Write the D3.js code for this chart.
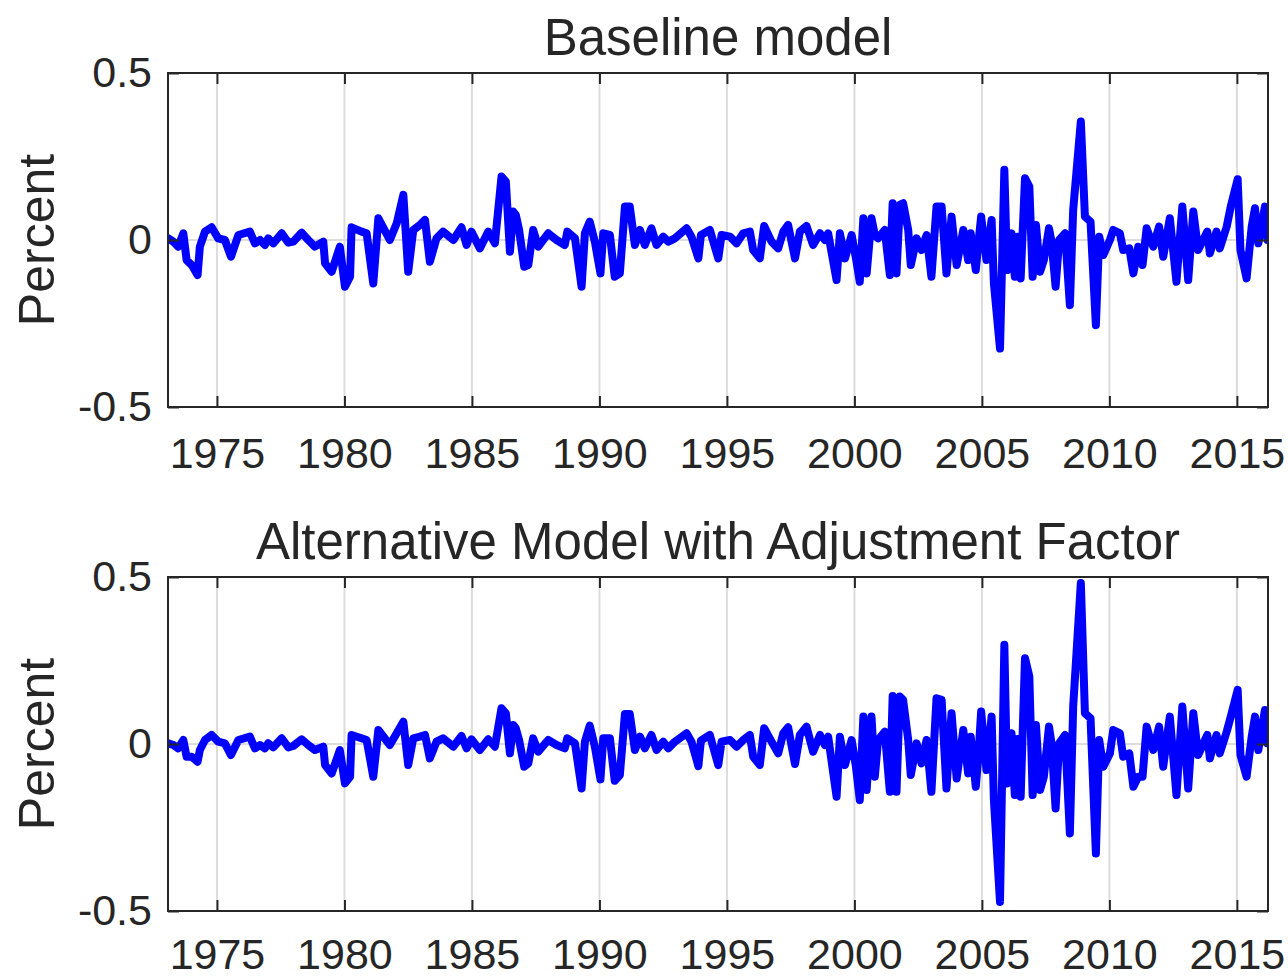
<!DOCTYPE html>
<html>
<head>
<meta charset="utf-8">
<script src="https://cdn.jsdelivr.net/npm/d3@7"></script>
<style>
  body { margin: 0; background: #fff; }
  svg { display: block; }
  text { font-family: "Liberation Sans", Arial, Helvetica, sans-serif; fill: #262626; }
</style>
</head>
<body>
<div id="chart"></div>
<script>
// decimal years
var months = [
  1973.09, 1973.29, 1973.48, 1973.68, 1973.81, 1974.01, 1974.24, 1974.33, 1974.53, 1974.79,
  1975.05, 1975.31, 1975.55, 1975.84, 1976.29, 1976.49, 1976.69, 1976.88, 1977.01, 1977.21,
  1977.54, 1977.80, 1977.99, 1978.32, 1978.58, 1978.84, 1979.17, 1979.24, 1979.50, 1979.82,
  1980.02, 1980.22, 1980.28, 1980.67, 1980.87, 1981.13, 1981.33, 1981.78, 1982.05, 1982.31,
  1982.50, 1982.70, 1982.96, 1983.16, 1983.35, 1983.61, 1983.87, 1984.27, 1984.59, 1984.79,
  1984.98, 1985.31, 1985.64, 1985.90, 1986.16, 1986.33, 1986.49, 1986.62, 1986.72, 1986.85,
  1987.05, 1987.21, 1987.40, 1987.60, 1987.99, 1988.32, 1988.64, 1988.74, 1989.04, 1989.30,
  1989.43, 1989.62, 1989.82, 1990.04, 1990.15, 1990.41, 1990.60, 1990.80, 1991.00, 1991.19,
  1991.39, 1991.59, 1991.78, 1992.04, 1992.24, 1992.50, 1992.70, 1992.96, 1993.42, 1993.61,
  1993.88, 1993.98, 1994.33, 1994.66, 1994.79, 1995.12, 1995.38, 1995.64, 1995.90, 1996.03,
  1996.29, 1996.46, 1996.75, 1997.01, 1997.21, 1997.40, 1997.67, 1997.86, 1998.12, 1998.38,
  1998.65, 1998.84, 1998.97, 1999.30, 1999.43, 1999.63, 1999.89, 2000.06, 2000.21, 2000.35,
  2000.48, 2000.67, 2000.80, 2000.93, 2001.19, 2001.39, 2001.50, 2001.65, 2001.78, 2001.91,
  2002.11, 2002.21, 2002.44, 2002.63, 2002.83, 2003.02, 2003.22, 2003.42, 2003.61, 2003.81,
  2004.01, 2004.27, 2004.46, 2004.56, 2004.76, 2004.86, 2004.97, 2005.18, 2005.38, 2005.47,
  2005.71, 2005.88, 2005.99, 2006.08, 2006.16, 2006.29, 2006.40, 2006.52, 2006.69, 2006.86,
  2006.99, 2007.12, 2007.28, 2007.43, 2007.63, 2007.73, 2007.89, 2008.03, 2008.26, 2008.45,
  2008.58, 2008.88, 2009.04, 2009.26, 2009.47, 2009.60, 2009.76, 2010.02, 2010.15, 2010.41,
  2010.54, 2010.78, 2010.94, 2011.13, 2011.30, 2011.46, 2011.72, 2011.95, 2012.11, 2012.37,
  2012.63, 2012.86, 2013.09, 2013.29, 2013.48, 2013.84, 2013.94, 2014.20, 2014.33, 2014.60,
  2014.76, 2015.03, 2015.14, 2015.38, 2015.58, 2015.71, 2015.84, 2016.10, 2016.20
];

var baseline = [
  0.005, -0.005, -0.02, 0.02, -0.06, -0.075, -0.105, -0.02, 0.025, 0.038,
  0.005, 0, -0.05, 0.015, 0.025, -0.01, 0, -0.015, 0.005, -0.01,
  0.02, -0.008, -0.005, 0.022, 0, -0.02, -0.005, -0.07, -0.095, -0.02,
  -0.14, -0.11, 0.038, 0.025, 0.02, -0.13, 0.065, 0, 0.05, 0.135,
  -0.095, 0.03, 0.045, 0.06, -0.065, 0.005, 0.025, 0, 0.038, -0.015,
  0.025, -0.025, 0.025, -0.01, 0.19, 0.175, -0.035, 0.085, 0.075, 0.03,
  -0.08, -0.075, 0.03, -0.02, 0.02, 0, -0.015, 0.025, 0.005, -0.14,
  0.02, 0.055, -0.005, -0.10, 0.02, 0.015, -0.11, -0.10, 0.10, 0.10,
  -0.015, 0.03, -0.015, 0.035, -0.015, 0.01, -0.005, 0.005, 0.035, 0.01,
  -0.055, 0.015, 0.03, -0.055, 0.015, 0.01, -0.01, 0.02, 0.025, -0.03,
  -0.055, 0.042, -0.005, -0.025, 0.025, 0.045, -0.055, 0.025, 0.042, -0.015,
  0.02, 0, 0.02, -0.12, 0.02, -0.055, 0.015, -0.055, -0.125, 0.065,
  -0.10, 0.065, 0.015, 0.005, 0.03, -0.105, 0.11, -0.10, 0.105, 0.11,
  0.03, -0.075, 0.005, -0.03, 0.015, -0.11, 0.10, 0.10, -0.10, 0.07,
  -0.075, 0.03, -0.06, 0.02, -0.09, -0.01, 0.07, -0.06, 0.06, -0.13,
  -0.325, 0.21, -0.09, -0.01, 0.02, -0.11, 0.01, -0.115, 0.185, 0.16,
  -0.11, 0.045, -0.095, -0.06, 0.035, -0.005, -0.14, 0, 0.02, -0.195,
  0.09, 0.355, 0.07, 0.055, -0.255, 0.01, -0.045, 0, 0.03, 0.02,
  -0.03, -0.025, -0.10, -0.02, -0.075, 0.035, -0.02, 0.04, -0.05, 0.065,
  -0.125, 0.10, -0.12, 0.085, -0.03, 0.025, -0.04, 0.025, -0.025, 0.04,
  0.10, 0.182, -0.03, -0.115, 0.04, 0.095, -0.01, 0.10, 0
];

var adjusted = [
  0.002, -0.003, -0.013, 0.012, -0.038, -0.038, -0.053, -0.018, 0.012, 0.027,
  0.007, 0.002, -0.033, 0.012, 0.022, -0.013, -0.003, -0.013, 0.002, -0.01,
  0.017, -0.01, -0.006, 0.014, -0.003, -0.018, -0.008, -0.063, -0.088, -0.018,
  -0.118, -0.098, 0.027, 0.017, 0.012, -0.098, 0.042, -0.003, 0.032, 0.067,
  -0.063, 0.017, 0.022, 0.027, -0.043, 0.007, 0.017, -0.008, 0.024, -0.013,
  0.014, -0.018, 0.014, -0.008, 0.107, 0.092, -0.028, 0.057, 0.047, 0.012,
  -0.068, -0.058, 0.017, -0.023, 0.012, -0.003, -0.013, 0.017, 0.002, -0.133,
  0.007, 0.055, -0.008, -0.106, 0.017, 0.017, -0.11, -0.093, 0.09, 0.09,
  -0.018, 0.022, -0.013, 0.027, -0.018, 0.007, -0.013, 0.007, 0.032, 0.007,
  -0.066, 0.01, 0.027, -0.063, 0.007, 0.012, -0.008, 0.012, 0.027, -0.038,
  -0.063, 0.047, 0.007, -0.028, 0.032, 0.05, -0.06, 0.027, 0.052, -0.023,
  0.027, -0.003, 0.022, -0.158, 0.022, -0.063, 0.012, -0.068, -0.168, 0.082,
  -0.138, 0.082, -0.098, 0.012, 0.037, -0.143, 0.144, -0.143, 0.142, 0.132,
  0.012, -0.093, 0.002, -0.058, 0.012, -0.143, 0.137, 0.132, -0.133, 0.092,
  -0.103, 0.042, -0.088, 0.022, -0.128, -0.038, 0.097, -0.078, 0.082, -0.168,
  -0.473, 0.297, -0.118, -0.02, 0.032, -0.153, 0.015, -0.158, 0.257, 0.202,
  -0.153, 0.057, -0.138, -0.098, 0.052, 0.002, -0.193, 0.002, 0.027, -0.268,
  0.112, 0.482, 0.092, 0.077, -0.328, 0.012, -0.068, -0.028, 0.042, 0.032,
  -0.038, -0.028, -0.128, -0.098, -0.098, 0.052, -0.018, 0.052, -0.068, 0.082,
  -0.153, 0.112, -0.133, 0.092, -0.033, 0.027, -0.043, 0.027, -0.028, 0.037,
  0.082, 0.162, -0.033, -0.098, 0.022, 0.082, -0.018, 0.102, 0.002
];

var xTicks = [1975, 1980, 1985, 1990, 1995, 2000, 2005, 2010, 2015];
var yTicks = [-0.5, 0, 0.5];
var titles = ["Baseline model", "Alternative Model with Adjustment Factor"];
var yLabel = "Percent";

var width = 1288, height = 976;
var axLeft = 168, axRight = 1268;
var panelTops = [73, 577];
var panelH = 334;
var labelPad = [30, 27];
var lineColor = "#0000ff", axisColor = "#262626", gridColor = "#dcdcdc";

var svg = d3.select("#chart").append("svg")
  .attr("width", width)
  .attr("height", height)
  .style("background", "#fff");

var x = d3.scaleLinear().domain([1973.08, 2016.22]).range([axLeft, axRight]);

function drawPanel(idx, values){
  var top = panelTops[idx];
  var y = d3.scaleLinear().domain([-0.5, 0.5]).range([top + panelH, top]);
  var g = svg.append("g");

  // clip for the data line
  var clipId = "clip" + idx;
  svg.append("clipPath").attr("id", clipId)
    .append("rect")
    .attr("x", axLeft).attr("y", top)
    .attr("width", axRight - axLeft).attr("height", panelH);

  // grid
  g.selectAll(".vgrid").data(xTicks).enter().append("line")
    .attr("x1", function(d){ return x(d); })
    .attr("x2", function(d){ return x(d); })
    .attr("y1", top).attr("y2", top + panelH)
    .attr("stroke", gridColor).attr("stroke-width", 2);
  g.selectAll(".hgrid").data(yTicks).enter().append("line")
    .attr("x1", axLeft).attr("x2", axRight)
    .attr("y1", function(d){ return y(d); })
    .attr("y2", function(d){ return y(d); })
    .attr("stroke", gridColor).attr("stroke-width", 2);

  // data
  var pts = months.map(function(m, i){ return [m, values[i]]; });
  var line = d3.line()
    .x(function(d){ return x(d[0]); })
    .y(function(d){ return y(d[1]); });
  g.append("path")
    .datum(pts)
    .attr("clip-path", "url(#" + clipId + ")")
    .attr("d", line)
    .attr("fill", "none")
    .attr("stroke", lineColor)
    .attr("stroke-width", 8)
    .attr("stroke-linejoin", "round")
    .attr("stroke-linecap", "round");

  // axes (ticks pointing inward)
  var bottom = g.append("g").attr("transform", "translate(0," + (top + panelH) + ")")
    .call(d3.axisBottom(x).tickValues(xTicks).tickSizeInner(-11).tickSizeOuter(0)
      .tickPadding(labelPad[idx]).tickFormat(d3.format("d")));
  var topAx = g.append("g").attr("transform", "translate(0," + top + ")")
    .call(d3.axisTop(x).tickValues(xTicks).tickSizeInner(-11).tickSizeOuter(0).tickFormat(""));
  var left = g.append("g").attr("transform", "translate(" + axLeft + ",0)")
    .call(d3.axisLeft(y).tickValues(yTicks).tickSizeInner(-11).tickSizeOuter(0)
      .tickPadding(16).tickFormat(function(d){ return d === 0 ? "0" : String(d); }));
  var right = g.append("g").attr("transform", "translate(" + axRight + ",0)")
    .call(d3.axisRight(y).tickValues(yTicks).tickSizeInner(-11).tickSizeOuter(0).tickFormat(""));

  [bottom, topAx, left, right].forEach(function(a){
    a.select(".domain").remove();
    a.selectAll("line").attr("stroke", axisColor).attr("stroke-width", 2);
    a.selectAll("text")
      .attr("fill", axisColor)
      .style("font-size", "43px")
      .style("font-family", "'Liberation Sans', Arial, Helvetica, sans-serif");
  });

  g.append("rect")
    .attr("x", axLeft).attr("y", top)
    .attr("width", axRight - axLeft).attr("height", panelH)
    .attr("fill", "none").attr("stroke", axisColor).attr("stroke-width", 2);

  // title and y label
  g.append("text")
    .attr("x", (axLeft + axRight) / 2)
    .attr("y", top - 18)
    .attr("text-anchor", "middle")
    .style("font-size", "51px")
    .text(titles[idx]);

  g.append("text")
    .attr("transform", "translate(54," + (top + panelH / 2) + ") rotate(-90)")
    .attr("text-anchor", "middle")
    .style("font-size", "50px")
    .text(yLabel);
}

drawPanel(0, baseline);
drawPanel(1, adjusted);
</script>
</body>
</html>
